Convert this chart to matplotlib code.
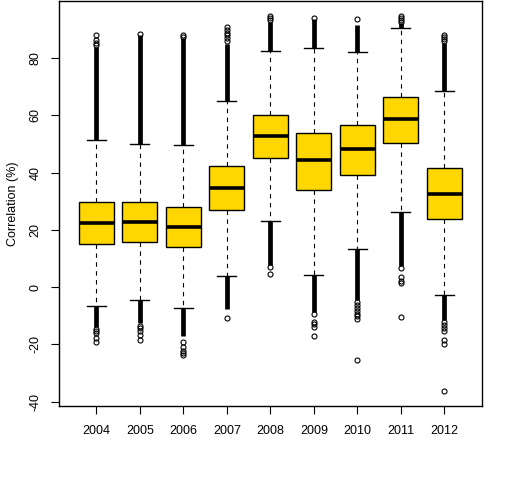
import matplotlib
matplotlib.use("Agg")
import matplotlib.pyplot as plt

plt.rcParams['font.family'] = ['Liberation Sans', 'DejaVu Sans']
plt.rcParams['axes.unicode_minus'] = False

# years on the x axis
years = ['2004', '2005', '2006', '2007', '2008', '2009', '2010', '2011', '2012']

# box statistics (correlation, %)
q1 = [15.0, 15.7, 14.1, 26.9, 45.1, 33.9, 39.1, 50.3, 23.8]
med = [22.5, 22.8, 21.0, 34.6, 52.7, 44.4, 48.2, 58.7, 32.6]
q3 = [29.7, 29.7, 28.2, 42.3, 60.1, 53.8, 56.6, 66.4, 41.6]
whis_lo = [-6.5, -4.5, -7.3, 3.8, 23.1, 4.3, 13.3, 26.2, -2.7]
whis_hi = [51.3, 49.9, 49.6, 65.0, 82.4, 83.5, 82.1, 90.5, 68.5]

# outliers so dense they merge into a solid band: where the band ends
dense_hi = [84.0, 88.0, 87.0, 85.0, 92.5, 93.8, 91.7, 92.2, 85.5]
dense_lo = [-13.8, -12.6, -17.2, -7.6, 7.8, -8.5, -4.4, 7.4, -11.4]

# separate outlier circles beyond the bands
sparse_hi = [
    [84.6, 85.5, 86.4, 88.3],
    [88.5],
    [87.6, 88.3],
    [86.0, 87.0, 88.0, 88.9, 89.9, 91.0],
    [93.3, 94.0, 94.7],
    [94.0],
    [93.7],
    [92.8, 93.5, 94.2, 94.8],
    [86.2, 86.9, 87.6, 88.2],
]
sparse_lo = [
    [-14.5, -15.3, -16.1, -17.8, -19.0],
    [-13.4, -14.3, -15.4, -16.6, -18.4],
    [-19.3, -20.9, -22.3, -23.0, -23.6],
    [-10.8],
    [7.0, 4.6],
    [-9.5, -12.0, -12.8, -14.0, -17.0],
    [-5.3, -6.2, -7.3, -8.2, -9.2, -10.2, -11.0, -25.5],
    [6.6, 3.4, 2.3, 1.4, -10.3],
    [-12.3, -13.2, -14.2, -15.2, -18.4, -19.9, -36.3],
]

positions = list(range(1, len(years) + 1))

stats = []
for i in range(len(years)):
    stats.append({
        'q1': q1[i], 'med': med[i], 'q3': q3[i],
        'whislo': whis_lo[i], 'whishi': whis_hi[i],
        'fliers': sparse_hi[i] + sparse_lo[i],
    })

fig = plt.figure(figsize=(5.12, 4.8), dpi=100)
ax = fig.add_axes([59 / 512, 1 - 406 / 480, (481.7 - 59) / 512, (406 - 1.3) / 480])

# dense outlier bands
ax.vlines(positions, whis_hi, dense_hi, colors='black', linewidth=3.4, zorder=2)
ax.vlines(positions, dense_lo, whis_lo, colors='black', linewidth=3.4, zorder=2)

ax.bxp(stats, positions=positions, widths=0.8, capwidths=0.44,
       patch_artist=True, showfliers=True,
       boxprops=dict(facecolor='#FFD700', edgecolor='black', linewidth=1.0),
       medianprops=dict(color='black', linewidth=2.6, solid_capstyle='butt'),
       whiskerprops=dict(color='black', linewidth=0.8, linestyle=(0, (4, 4))),
       capprops=dict(color='black', linewidth=1.0),
       flierprops=dict(marker='o', markersize=3.6, markerfacecolor='none',
                       markeredgecolor='black', markeredgewidth=0.8),
       zorder=3)

ax.set_xlim(0.14, 9.86)
ax.set_ylim(-41.5, 99.9)
ax.set_xticks(positions)
ax.set_xticklabels(years)
ax.set_yticks([-40, -20, 0, 20, 40, 60, 80])
for lab in ax.get_yticklabels():
    lab.set_rotation(90)
    lab.set_va('center')
ax.tick_params(axis='both', direction='out', length=5.5, width=0.8,
               labelsize=9, colors='black')
ax.tick_params(axis='x', pad=8)
ax.tick_params(axis='y', pad=7)
for s in ax.spines.values():
    s.set_linewidth(1.0)

ax.set_ylabel('Correlation (%)', fontsize=9, labelpad=8)

fig.savefig('out.png', dpi=100)
